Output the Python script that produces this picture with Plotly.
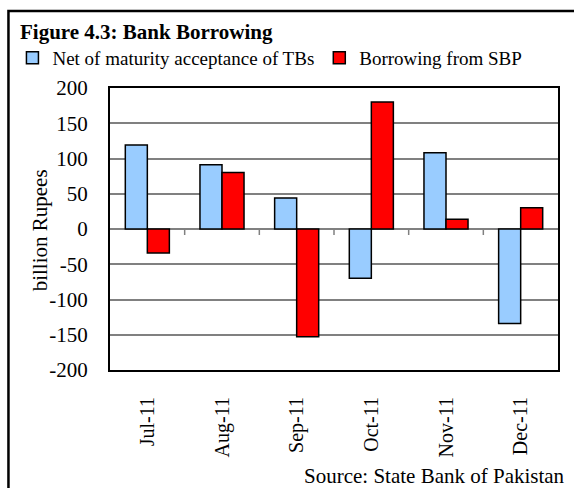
import plotly.graph_objects as go

months = ["Jul-11", "Aug-11", "Sep-11", "Oct-11", "Nov-11", "Dec-11"]
net_tbs = [119, 91, 44, -70, 108, -134]
sbp_borrowing = [-34, 80, -153, 180, 14, 30]
ytick_vals = [-200, -150, -100, -50, 0, 50, 100, 150, 200]
ytick_text = ["-200", "-150", "-100", "-50", "0", "50", "100", "150", "200"]

FONT = "Liberation Serif"
W, H = 574, 488
L, R, T, B = 108, 16, 88, 118
pw, ph = W - L - R, H - T - B

def px_x(p):
    return (p - L) / pw

def px_y(p):
    return (H - B - p) / ph

fig = go.Figure()
fig.add_trace(go.Bar(x=months, y=net_tbs, name="Net of maturity acceptance of TBs",
                     marker=dict(color="#99CCFF", line=dict(color="black", width=1.5))))
fig.add_trace(go.Bar(x=months, y=sbp_borrowing, name="Borrowing from SBP",
                     marker=dict(color="#FF0000", line=dict(color="black", width=1.5))))

shapes = []
# small tick marks on zero line at category boundaries
for i in range(len(months) - 1):
    shapes.append(dict(type="line", xref="x", yref="y", x0=i + 0.5, x1=i + 0.5,
                       ysizemode="pixel", yanchor=0, y0=0, y1=-6,
                       line=dict(color="#808080", width=1.5)))
# outer frame (extends beyond page on right and bottom)
shapes.append(dict(type="rect", xref="paper", yref="paper",
                   x0=px_x(6), x1=px_x(590), y0=px_y(505), y1=px_y(11),
                   line=dict(color="black", width=2.5), fillcolor="rgba(0,0,0,0)", layer="above"))

fig.update_layout(
    width=W, height=H,
    margin=dict(l=L, r=R, t=T, b=B, pad=0),
    paper_bgcolor="white", plot_bgcolor="white",
    barmode="group", bargap=0.41, bargroupgap=0,
    font=dict(family=FONT, size=20, color="black"),
    title=dict(text="<b>Figure 4.3: Bank Borrowing</b>", xref="container", yref="container",
               x=20 / W, xanchor="left", y=1 - 32 / H, yanchor="middle",
               font=dict(family=FONT, size=21, color="black")),
    legend=dict(orientation="h", x=px_x(10), xanchor="left", y=px_y(58), yanchor="middle",
                bgcolor="rgba(0,0,0,0)", font=dict(family=FONT, size=19, color="black"),
                itemwidth=30, tracegroupgap=0),
    xaxis=dict(showline=True, mirror=True, linecolor="black", linewidth=2,
               tickangle=-90, ticks="", ticklabelstandoff=17, automargin=False,
               tickfont=dict(family=FONT, size=20), showgrid=False),
    yaxis=dict(range=[-200, 200], tickvals=ytick_vals, ticktext=ytick_text,
               showline=True, mirror=True, linecolor="black", linewidth=2,
               showgrid=True, gridcolor="#808080", gridwidth=1.5,
               zeroline=True, zerolinecolor="#808080", zerolinewidth=1.5,
               ticks="", ticklabelstandoff=16, automargin=False,
               tickfont=dict(family=FONT, size=21)),
    shapes=shapes,
    annotations=[
        dict(text="billion Rupees", textangle=-90, xref="paper", yref="paper",
             x=px_x(38), y=px_y(230), xanchor="center", yanchor="middle", showarrow=False,
             font=dict(family=FONT, size=21, color="black")),
        dict(text="Source: State Bank of Pakistan", xref="paper", yref="paper",
             x=px_x(567), y=px_y(476), xanchor="right", yanchor="middle", showarrow=False,
             font=dict(family=FONT, size=21, color="black")),
    ],
)

fig.write_html("out.html")
